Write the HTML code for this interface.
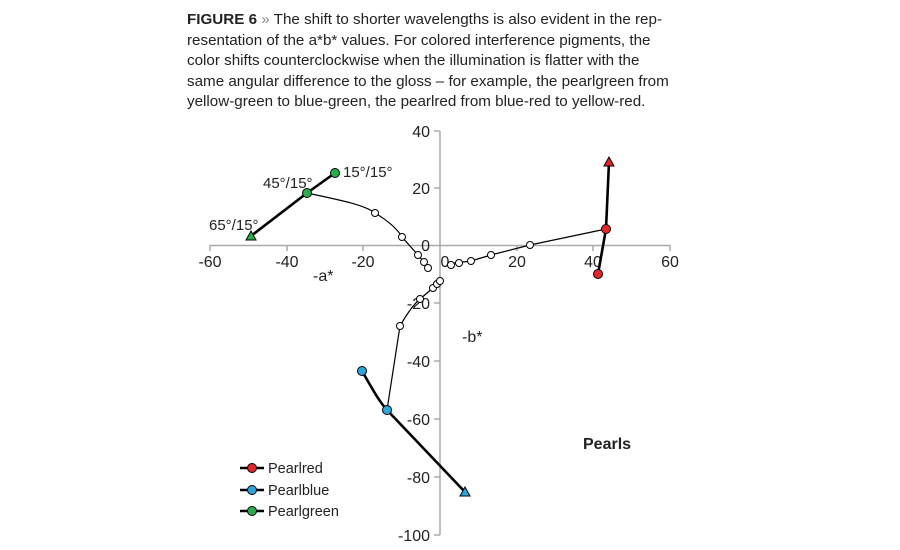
<!DOCTYPE html>
<html><head><meta charset="utf-8"><style>
body{margin:0;background:#fff;width:900px;height:550px;overflow:hidden;font-family:"Liberation Sans",sans-serif}
.cap{position:absolute;left:187px;top:10px;width:560px;font-size:15.2px;line-height:20.5px;color:#222}
</style></head><body>
<div class="cap"><b>FIGURE 6</b> <span style="color:#888">»</span> The shift to shorter wavelengths is also evident in the rep-<br>resentation of the a*b* values. For colored interference pigments, the<br>color shifts counterclockwise when the illumination is flatter with the<br>same angular difference to the gloss – for example, the pearlgreen from<br>yellow-green to blue-green, the pearlred from blue-red to yellow-red.</div>
<svg width="900" height="550" style="position:absolute;left:0;top:0" font-family="Liberation Sans, sans-serif" font-size="16" fill="#222">
<g stroke="#aaa" stroke-width="1.5">
<line x1="210" y1="245.5" x2="670" y2="245.5"/>
<line x1="440" y1="131" x2="440" y2="535"/>
<line x1="210" y1="245" x2="210" y2="251"/><line x1="287" y1="245" x2="287" y2="251"/><line x1="363" y1="245" x2="363" y2="251"/><line x1="517" y1="245" x2="517" y2="251"/><line x1="593" y1="245" x2="593" y2="251"/><line x1="670" y1="245" x2="670" y2="251"/>
<line x1="434" y1="131" x2="440" y2="131"/><line x1="434" y1="188" x2="440" y2="188"/><line x1="434" y1="303" x2="440" y2="303"/><line x1="434" y1="361" x2="440" y2="361"/><line x1="434" y1="419" x2="440" y2="419"/><line x1="434" y1="477" x2="440" y2="477"/><line x1="434" y1="535" x2="440" y2="535"/>
</g>
<g text-anchor="middle">
<text x="210" y="267">-60</text><text x="287" y="267">-40</text><text x="363" y="267">-20</text><text x="445" y="267">0</text><text x="517" y="267">20</text><text x="593" y="267">40</text><text x="670" y="267">60</text>
</g>
<g text-anchor="end">
<text x="430" y="137">40</text><text x="430" y="194">20</text><text x="430" y="251">0</text><text x="430" y="309">-20</text><text x="430" y="367">-40</text><text x="430" y="425">-60</text><text x="430" y="483">-80</text><text x="430" y="541">-100</text>
</g>
<text x="313" y="281">-a*</text><text x="462" y="342">-b*</text>
<text x="583" y="449" font-weight="bold">Pearls</text>
<text x="343" y="177" font-size="15">15°/15°</text><text x="263" y="188" font-size="15">45°/15°</text><text x="209" y="230" font-size="15">65°/15°</text>
<g fill="none" stroke="#000" stroke-width="1.2">
<path d="M307,193 C340,200 365,205 375,213 C390,222 398,230 402,237 L418,255 L424,262 L428,268"/>
<path d="M387,410 L400,326 C408,312 414,304 420,299 L433,288 L437,284 L440,281"/>
<path d="M451,265 L455,263 L471,261 L491,255 L530,245 L606,229"/>
</g>
<g fill="none" stroke="#000" stroke-width="2.6">
<path d="M251,236 L307,193 L335,173"/>
<path d="M362,371 C372,388 378,400 387,410 L465,492"/>
<path d="M598,274 L606,229 L609,162"/>
</g>
<g fill="#fff" stroke="#000" stroke-width="1">
<circle cx="375" cy="213" r="3.5"/><circle cx="402" cy="237" r="3.5"/><circle cx="418" cy="255" r="3.5"/><circle cx="424" cy="262" r="3.5"/><circle cx="428" cy="268" r="3.5"/>
<circle cx="400" cy="326" r="3.5"/><circle cx="420" cy="299" r="3.5"/><circle cx="433" cy="288" r="3.5"/><circle cx="437" cy="284" r="3.5"/><circle cx="440" cy="281" r="3.5"/>
<circle cx="451" cy="265" r="3.5"/><circle cx="459" cy="263" r="3.5"/><circle cx="471" cy="261" r="3.5"/><circle cx="491" cy="255" r="3.5"/><circle cx="530" cy="245" r="3.5"/>
</g>
<g stroke="#000" stroke-width="1">
<circle cx="307" cy="193" r="4.5" fill="#22b04a"/><circle cx="335" cy="173" r="4.5" fill="#22b04a"/><polygon points="251,231 256,240 246,240" fill="#22b04a"/>
<circle cx="362" cy="371" r="4.5" fill="#29a8e0"/><circle cx="387" cy="410" r="4.5" fill="#29a8e0"/><polygon points="465,487 470,496 460,496" fill="#29a8e0"/>
<circle cx="598" cy="274" r="4.5" fill="#e8262a"/><circle cx="606" cy="229" r="4.5" fill="#e8262a"/><polygon points="609,157 614,166 604,166" fill="#e8262a"/>
</g>
<g stroke="#000" stroke-width="2.6"><line x1="240" y1="468" x2="264" y2="468"/><line x1="240" y1="490" x2="264" y2="490"/><line x1="240" y1="511" x2="264" y2="511"/></g>
<g stroke="#000" stroke-width="1"><circle cx="252" cy="468" r="4.5" fill="#e8262a"/><circle cx="252" cy="490" r="4.5" fill="#29a8e0"/><circle cx="252" cy="511" r="4.5" fill="#22b04a"/></g>
<text x="268" y="473" font-size="14.5">Pearlred</text><text x="268" y="495" font-size="14.5">Pearlblue</text><text x="268" y="516" font-size="14.5">Pearlgreen</text>
</svg>
</body></html>
